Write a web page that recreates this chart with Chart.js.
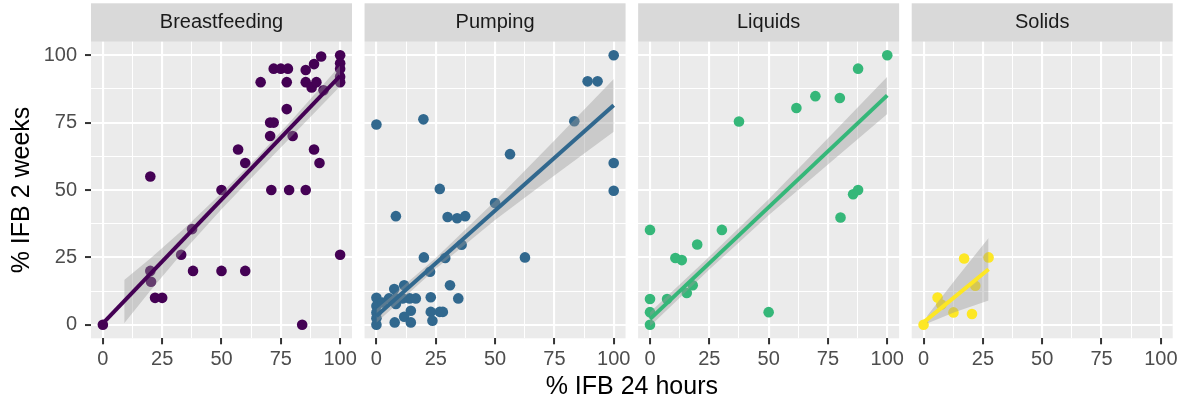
<!DOCTYPE html>
<html>
<head>
<meta charset="utf-8">
<script src="https://cdn.jsdelivr.net/npm/chart.js@4.4.1/dist/chart.umd.min.js"></script>
<style>
  html, body { margin: 0; padding: 0; background: #ffffff; overflow: hidden; }
  canvas { display: block; }
</style>
</head>
<body>
<canvas id="canvasFacets" width="1190" height="402"></canvas>
<script>
// facets and axis ticks
const facetNames = ['Breastfeeding', 'Pumping', 'Liquids', 'Solids'];
const facetColors = ['#440154', '#31688e', '#35b779', '#fde725'];
const majorTicks = [0, 25, 50, 75, 100];
const minorTicks = [12.5, 37.5, 62.5, 87.5];

// Breastfeeding : % IFB 24 hours / % IFB 2 weeks
const bfHours = [0, 20, 20, 20.3, 22, 25, 33, 37.6, 38, 50, 50, 57, 60, 60, 66.5, 70.5, 70.5, 72, 71, 72, 75, 78,
  77.5, 77.5, 80, 78.5, 84, 85.5, 85.5, 85.5, 89, 89, 91.3, 92, 88, 90, 93, 100, 100, 100, 100, 100, 100];
const bfWeeks = [0, 55, 20, 16, 10, 10, 26, 35.5, 20, 50, 20, 65, 60, 20, 90, 70, 75, 75, 50, 95, 95, 95,
  90, 80, 70, 50, 0, 90, 94.5, 50, 96.7, 65, 60, 99.5, 88, 90, 87, 100, 97, 95, 92, 90, 26];
const bfFitX = [0, 100];
const bfFitY = [0.5, 92.3];
const bfBandX = [9, 20, 35, 50, 65, 80, 100];
const bfBandLo = [0.6, 12.6, 28.3, 42.9, 56.7, 70.3, 88.5];
const bfBandHi = [16.6, 24.6, 36.3, 48.9, 62.1, 76.3, 96.2];

// Pumping
const ppHours = [0, 19.8, 26.7, 8.2, 30, 34, 37.4, 35.9, 20, 29, 22.6, 50, 56.3, 62.6, 83.4, 89, 93.2, 100, 100, 100,
  31, 34.5, 22.9, 0, 0, 0, 0, 0, 7.5, 11.7, 5.3, 8.2, 11, 14, 16.6, 8.2, 14.5, 22.9, 26.7, 28, 23.6, 7.7, 11.7, 14.5, 2.5];
const ppWeeks = [74.3, 76.2, 50.4, 40.3, 40, 39.5, 40.3, 29.7, 25, 24.8, 19.7, 45.2, 63.3, 25, 75.5, 90.3, 90.3, 100, 60, 49.7,
  14.7, 9.8, 10.2, 10, 7, 4.6, 2.4, 0, 13.3, 14.7, 9.8, 9.8, 9.8, 9.8, 9.8, 7.7, 5.2, 4.8, 4.8, 4.8, 1.5, 0.9, 3, 0.9, 8.3];
const ppFitX = [0, 100];
const ppFitY = [3.3, 81.4];
const ppBandX = [0, 25, 50, 75, 100];
const ppBandLo = [0.8, 20.8, 38.9, 55.4, 71.6];
const ppBandHi = [5.8, 24.8, 45.9, 68.4, 91.2];

// Liquids
const lqHours = [100, 87.7, 69.7, 80, 61.7, 37.5, 87.7, 85.6, 80.3, 0, 30.3, 19.9, 10.7, 13.4, 18, 15.5, 7.2, 0, 0, 0, 50];
const lqWeeks = [100, 95, 84.8, 84.1, 80.4, 75.4, 50, 48.4, 39.8, 35.2, 35.2, 29.8, 24.8, 24, 14.7, 11.8, 9.6, 9.6, 4.7, 0, 4.7];
const lqFitX = [0, 100];
const lqFitY = [2.1, 85.1];
const lqBandX = [0, 25, 50, 75, 100];
const lqBandLo = [-0.5, 20.5, 40.6, 59.5, 78.2];
const lqBandHi = [4.7, 25.2, 46.6, 69.2, 92];

// Solids
const sdHours = [0, 5.9, 17.1, 27.4, 21.8, 12.6, 20.4, 7.5];
const sdWeeks = [0, 10.1, 24.6, 25, 14.5, 4.6, 4, 7.5];
const sdFitX = [0, 27.4];
const sdFitY = [0.9, 20.6];
const sdBandX = [1.5, 13, 27.4];
const sdBandLo = [0.5, 4.7, 9];
const sdBandHi = [3.3, 16.3, 32.2];

const facets = [
  { hours: bfHours, weeks: bfWeeks, fitX: bfFitX, fitY: bfFitY, bandX: bfBandX, bandLo: bfBandLo, bandHi: bfBandHi },
  { hours: ppHours, weeks: ppWeeks, fitX: ppFitX, fitY: ppFitY, bandX: ppBandX, bandLo: ppBandLo, bandHi: ppBandHi },
  { hours: lqHours, weeks: lqWeeks, fitX: lqFitX, fitY: lqFitY, bandX: lqBandX, bandLo: lqBandLo, bandHi: lqBandHi },
  { hours: sdHours, weeks: sdWeeks, fitX: sdFitX, fitY: sdFitY, bandX: sdBandX, bandLo: sdBandLo, bandHi: sdBandHi }
];

const FONT = 'Liberation Sans, Arial, Helvetica, sans-serif';
const PANEL_W = 261;
const GAP_W = 12.57;
const NONE = 'rgba(0,0,0,0)';

const toXY = (xs, ys) => xs.map((x, i) => ({ x: x, y: ys[i] }));
const isMajor = v => majorTicks.includes(v);
const gridVals = majorTicks.concat(minorTicks).sort((a, b) => a - b);
const setTicks = scale => { scale.ticks = gridVals.map(v => ({ value: v })); };

const gridStyle = {
  color: '#ffffff',
  lineWidth: ctx => (ctx.tick && isMajor(ctx.tick.value)) ? 2.1 : 1,
  tickColor: ctx => (ctx.tick && isMajor(ctx.tick.value)) ? '#333333' : NONE,
  tickWidth: 2,
  tickLength: 6,
  drawTicks: true
};
const tickStyle = {
  callback: v => isMajor(v) ? String(v) : '',
  autoSkip: false,
  maxRotation: 0,
  minRotation: 0,
  color: '#4d4d4d',
  font: { family: FONT, size: 20 }
};
const emptyAxis = (position, stack, weight) => ({
  type: 'linear', position: position, stack: stack, stackWeight: weight, min: 0, max: 1,
  grid: { display: false, drawTicks: false },
  border: { display: false },
  ticks: { display: false }
});

// datasets : points below, ribbon, then fitted line on top
const datasets = [];
facets.forEach((f, i) => {
  const axis = 'x' + i;
  datasets.push({
    type: 'scatter', data: toXY(f.hours, f.weeks), xAxisID: axis, yAxisID: 'y',
    pointRadius: 5.3, pointBackgroundColor: facetColors[i], pointBorderColor: facetColors[i], pointBorderWidth: 0,
    order: 3
  });
  datasets.push({
    type: 'line', data: toXY(f.bandX, f.bandLo), xAxisID: axis, yAxisID: 'y',
    borderColor: NONE, borderWidth: 0, pointRadius: 0, fill: false, order: 2
  });
  datasets.push({
    type: 'line', data: toXY(f.bandX, f.bandHi), xAxisID: axis, yAxisID: 'y',
    borderColor: NONE, borderWidth: 0, pointRadius: 0, fill: '-1', backgroundColor: 'rgba(153,153,153,0.4)', order: 2
  });
  datasets.push({
    type: 'line', data: toXY(f.fitX, f.fitY), xAxisID: axis, yAxisID: 'y',
    borderColor: facetColors[i], borderWidth: 4, pointRadius: 0, fill: false, order: 1
  });
});

// scales
const scales = {
  y: {
    type: 'linear', position: 'left', min: -5, max: 105,
    afterBuildTicks: setTicks,
    afterFit: s => { s.width = 91; },
    grid: gridStyle,
    border: { display: false },
    ticks: Object.assign({}, tickStyle, { padding: 8 }),
    title: { display: true, text: '% IFB 2 weeks', color: '#000000', font: { family: FONT, size: 25 }, padding: { top: 7.5, bottom: 0 } }
  }
};
facetNames.forEach((name, i) => {
  scales['x' + i] = {
    type: 'linear', position: 'bottom', stack: 'bottom', stackWeight: PANEL_W, min: -5, max: 105,
    afterBuildTicks: setTicks,
    afterFit: s => { s.height = 33.7; },
    grid: gridStyle,
    border: { display: false },
    ticks: Object.assign({}, tickStyle, { padding: 3 })
  };
  if (i < facetNames.length - 1) scales['gb' + i] = emptyAxis('bottom', 'bottom', GAP_W);
});
// top boxes are laid out in reverse order, so add them last facet first
for (let i = facetNames.length - 1; i >= 0; i--) {
  scales['s' + i] = Object.assign(emptyAxis('top', 'top', PANEL_W), {
    afterFit: s => { s.height = 38.4; },
    title: { display: true, text: facetNames[i], color: '#1a1a1a', font: { family: FONT, size: 20 }, padding: { top: 7.2, bottom: 7.2 } }
  });
  if (i > 0) scales['gt' + (i - 1)] = emptyAxis('top', 'top', GAP_W);
}
scales.xTitle = Object.assign(emptyAxis('bottom', undefined, 1), {
  weight: 1,
  afterFit: s => { s.height = 30; },
  title: { display: true, text: '% IFB 24 hours', color: '#000000', font: { family: FONT, size: 25 }, padding: { top: 0, bottom: 0 } }
});

const panelBackground = {
  id: 'panelBackground',
  beforeDraw(chart) {
    const { ctx, chartArea } = chart;
    ctx.save();
    facetNames.forEach((name, i) => {
      const xs = chart.scales['x' + i];
      const ss = chart.scales['s' + i];
      ctx.fillStyle = '#ebebeb';
      ctx.fillRect(xs.left, chartArea.top, xs.right - xs.left, chartArea.bottom - chartArea.top);
      ctx.fillStyle = '#d9d9d9';
      ctx.fillRect(ss.left, ss.top, ss.right - ss.left, ss.bottom - ss.top);
    });
    ctx.restore();
  }
};

new Chart(document.getElementById('canvasFacets'), {
  type: 'scatter',
  data: { datasets: datasets },
  options: {
    responsive: false,
    animation: false,
    devicePixelRatio: 1,
    layout: { padding: { top: 3.3, right: 17.3, bottom: 0, left: 0 } },
    scales: scales,
    plugins: {
      legend: { display: false },
      title: { display: false },
      tooltip: { enabled: false }
    }
  },
  plugins: [panelBackground]
});
</script>
</body>
</html>
